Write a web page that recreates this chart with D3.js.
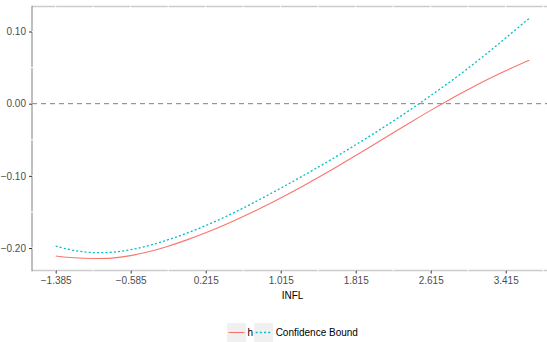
<!DOCTYPE html>
<html><head><meta charset="utf-8">
<script src="https://cdn.jsdelivr.net/npm/d3@7"></script>
<style>body{margin:0;background:#fff}svg{display:block;font-family:"Liberation Sans",Arial,sans-serif}</style>
</head><body><svg id="c" width="547" height="342"></svg>
<script>
const xVals = [-1.385,-1.185,-0.985,-0.785,-0.585,-0.385,-0.185,0.015,0.215,0.415,0.615,0.815,1.015,1.215,1.415,1.615,1.815,2.015,2.215,2.415,2.615,2.815,3.015,3.215,3.415,3.615,3.667];
const hVals = [-0.2110,-0.2135,-0.2145,-0.2140,-0.2105,-0.2048,-0.1974,-0.1887,-0.1789,-0.1681,-0.1564,-0.1439,-0.1307,-0.1168,-0.1023,-0.0873,-0.0719,-0.0562,-0.0404,-0.0247,-0.0093,0.0055,0.0195,0.0330,0.0455,0.0573,0.0603];
const cbVals = [-0.1975,-0.2035,-0.2063,-0.2058,-0.2023,-0.1963,-0.1885,-0.1793,-0.1689,-0.1573,-0.1446,-0.1311,-0.1171,-0.1027,-0.0879,-0.0727,-0.0570,-0.0408,-0.0241,-0.0068,0.0112,0.0297,0.0492,0.0697,0.0910,0.1128,0.1180];
const xTicks = [-1.385,-0.585,0.215,1.015,1.815,2.615,3.415];
const yTicks = [0.10,0.00,-0.10,-0.20];
const seriesNames = ["h","Confidence Bound"];

const svg = d3.select("#c");
const L = 32, R = 553, T = 6.5, B = 270.5;
const xPad = (d3.max(xVals)-d3.min(xVals))*0.05;
const allY = hVals.concat(cbVals);
const yPad = (d3.max(allY)-d3.min(allY))*0.05;
const x = d3.scaleLinear().domain([d3.min(xVals)-xPad, d3.max(xVals)+xPad]).range([L,R]);
const y = d3.scaleLinear().domain([d3.min(allY)-yPad, d3.max(allY)+yPad]).range([B,T]);

svg.append("line").attr("x1",L).attr("x2",R).attr("y1",T).attr("y2",T).attr("stroke","#cccccc").attr("stroke-width",1.6);
svg.append("line").attr("x1",L).attr("x2",R).attr("y1",B).attr("y2",B).attr("stroke","#cccccc").attr("stroke-width",1.6);
svg.append("line").attr("x1",L).attr("x2",L).attr("y1",T-0.8).attr("y2",B+0.8).attr("stroke","#8a8a8a").attr("stroke-width",1.1);

const xMinor = xTicks.slice(0,-1).map((d,i)=>(d+xTicks[i+1])/2).concat([xTicks[xTicks.length-1]+0.4]);
const yMinor = [0.05,-0.05,-0.15];
svg.append("g").selectAll("line").data(xTicks.concat(xMinor)).join("line")
  .attr("x1",d=>x(d)).attr("x2",d=>x(d)).attr("y1",T-1).attr("y2",B+1)
  .attr("stroke","#fff").attr("stroke-width",1);
svg.append("g").selectAll("line").data(yTicks.concat(yMinor)).join("line")
  .attr("y1",d=>y(d)).attr("y2",d=>y(d)).attr("x1",L-1).attr("x2",R)
  .attr("stroke","#fff").attr("stroke-width",1);

svg.append("line").attr("x1",L).attr("x2",R).attr("y1",y(0)).attr("y2",y(0))
  .attr("stroke","#7f7f7f").attr("stroke-width",1).attr("stroke-dasharray","5,4");

const xa = svg.append("g").attr("transform",`translate(0,${B})`)
  .call(d3.axisBottom(x).tickValues(xTicks).tickFormat(d3.format(".3f")).tickSize(3).tickPadding(3));
const ya = svg.append("g").attr("transform",`translate(${L},0)`)
  .call(d3.axisLeft(y).tickValues(yTicks).tickFormat(d3.format(".2f")).tickSize(3).tickPadding(3));
[xa,ya].forEach(g=>{
  g.select(".domain").remove();
  g.selectAll(".tick line").attr("stroke","#333").attr("stroke-width",1);
  g.selectAll(".tick text").attr("fill","#4d4d4d").attr("font-size",10).attr("font-family","Liberation Sans, Arial, sans-serif");
});

svg.append("text").attr("x",(L+R)/2).attr("y",299).attr("text-anchor","middle")
  .attr("font-size",10).attr("fill","#000").text("INFL");

const line = (vals)=>d3.line().x((d,i)=>x(xVals[i])).y(d=>y(d)).curve(d3.curveCatmullRom.alpha(0.5))(vals);
svg.append("path").attr("d",line(hVals)).attr("fill","none").attr("stroke","#F8766D").attr("stroke-width",1.1);
svg.append("path").attr("d",line(cbVals)).attr("fill","none").attr("stroke","#00BFC4").attr("stroke-width",1.3).attr("stroke-dasharray","2,2.2");

const lg = svg.append("g");
const keyW = 19, keyH = 19, ky = 323, cy = ky + keyH/2;
const t1 = lg.append("text").attr("font-size",10).attr("fill","#000").text(seriesNames[0]);
const t2 = lg.append("text").attr("font-size",10).attr("fill","#000").text(seriesNames[1]);
const w1 = t1.node().getComputedTextLength(), w2 = t2.node().getComputedTextLength();
const total = keyW + 1.5 + w1 + 1 + keyW + 2.5 + w2;
let cx = (L+R)/2 - total/2;
lg.append("rect").attr("x",cx).attr("y",ky).attr("width",keyW).attr("height",keyH).attr("fill","#f0f0f0");
lg.append("line").attr("x1",cx+1.5).attr("x2",cx+keyW-1.5).attr("y1",cy).attr("y2",cy).attr("stroke","#F8766D").attr("stroke-width",1.1);
cx += keyW + 1.5;
t1.attr("x",cx).attr("y",cy+3.5);
cx += w1 + 1;
lg.append("rect").attr("x",cx).attr("y",ky).attr("width",keyW).attr("height",keyH).attr("fill","#f0f0f0");
lg.append("line").attr("x1",cx+1.5).attr("x2",cx+keyW-1.5).attr("y1",cy).attr("y2",cy).attr("stroke","#00BFC4").attr("stroke-width",1.3).attr("stroke-dasharray","2,2.2");
cx += keyW + 2.5;
t2.attr("x",cx).attr("y",cy+3.5);
</script></body></html>
